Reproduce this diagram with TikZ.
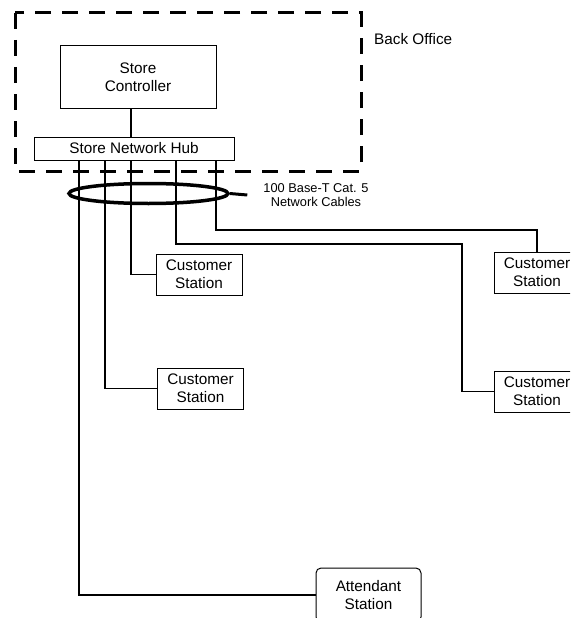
\documentclass[tikz,border=0pt]{standalone}
\usepackage{fontspec}
\setmainfont{Liberation Sans}
\usetikzlibrary{shapes.geometric,calc}
\newcommand{\mainfnt}{\fontsize{15.3}{18}\selectfont}
\newcommand{\smallfnt}{\fontsize{12.8}{14}\selectfont}
\tikzset{
  unitbox/.style={draw, line width=1pt, align=center, inner sep=0pt, font=\mainfnt},
  stationbox/.style={unitbox, minimum width=86pt, minimum height=41pt},
  cable/.style={line width=1.6pt},
  officeline/.style={line width=3pt, dash pattern=on 16pt off 11pt},
}
\begin{document}
\begin{tikzpicture}[x=1pt, y=-1pt]
  \useasboundingbox (0,0) rectangle (570,618);
  \clip (0,0) rectangle (570,618);

  % back office area
  \draw[officeline] (15,13) rectangle (361,171);
  \node[anchor=west, inner sep=0pt, font=\mainfnt] (office) at (374,39) {Back Office};

  % back office equipment
  \node[unitbox, minimum width=156pt, minimum height=62pt] (ctrl) at (138,77) {Store\\Controller};
  \node[unitbox, minimum width=200pt, minimum height=23pt] (hub) at (134,148.5) {Store Network Hub};
  \draw[cable] (ctrl.south -| 131,0) coordinate (c0) -- (c0 |- hub.north);

  % stations
  \node[stationbox] (cs1) at (199,274.5) {Customer\\Station};
  \node[stationbox] (cs2) at (200.5,388.5) {Customer\\Station};
  \node[stationbox] (cs3) at (537,272.5) {Customer\\Station};
  \node[stationbox] (cs4) at (537,391.5) {Customer\\Station};
  \node[unitbox, rounded corners=5pt, minimum width=105pt, minimum height=54pt] (att) at (368.5,595) {Attendant\\Station};

  % hub ports
  \coordinate (p1) at (79,160);
  \coordinate (p2) at (105,160);
  \coordinate (p3) at (131,160);
  \coordinate (p4) at (176,160);
  \coordinate (p5) at (216,160);
  \coordinate (b4) at (462,244);
  \coordinate (b5) at (537,230);

  % network cables
  \draw[cable] (p1) |- (att.west);
  \draw[cable] (p2) |- (cs2.west);
  \draw[cable] (p3) |- (cs1.west);
  \draw[cable] (p4) |- (b4) |- (cs4.west);
  \draw[cable] (p5) |- (b5) -- (cs3.north);

  % cable bundle callout
  \node[ellipse, draw, line width=3.5pt, minimum width=159pt, minimum height=20pt, inner sep=0pt] (bundle) at (148.5,193.5) {};
  \node[align=center, inner sep=0pt, font=\smallfnt] (lbl) at (316,195) {100 Base-T Cat. 5\\Network Cables};
  \draw[line width=3pt] (bundle.east) -- ([xshift=-16pt]lbl.west);
\end{tikzpicture}
\end{document}
